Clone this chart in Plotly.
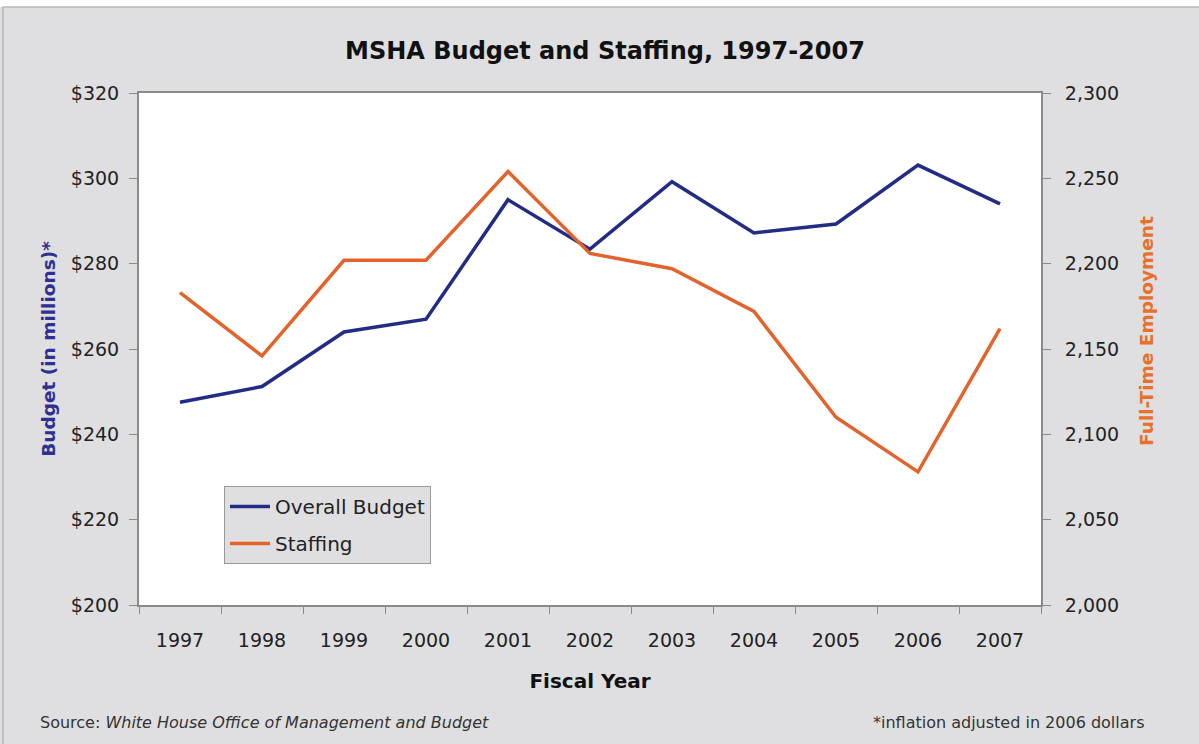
import plotly.graph_objects as go

years = ["1997", "1998", "1999", "2000", "2001", "2002", "2003", "2004", "2005", "2006", "2007"]
budget = [247.5, 251.2, 264.0, 267.0, 295.0, 283.4, 299.2, 287.2, 289.3, 303.1, 294.0]
staffing = [2183, 2146, 2202, 2202, 2254, 2206, 2197, 2172, 2110, 2078, 2162]
budget_ticks = [200, 220, 240, 260, 280, 300, 320]
staff_ticks = [2000, 2050, 2100, 2150, 2200, 2250, 2300]

W, H = 1199, 744
L, R, T, B = 139, 158, 93, 139
PW, PH = W - L - R, H - T - B

def px(x):
    return (x - L) / PW

def py(y):
    return (H - B - y) / PH

BLUE = "#232c84"
ORANGE = "#e2632b"
BG = "#dfdfe1"
AXC = "#8a8a8a"
FONT = "DejaVu Sans, Liberation Sans, Arial, sans-serif"

fig = go.Figure()
fig.add_trace(go.Scatter(x=years, y=budget, name="Overall Budget", mode="lines",
                         legendgroup="a",
                         line=dict(color=BLUE, width=3.5), yaxis="y"))
fig.add_trace(go.Scatter(x=years, y=staffing, name="Staffing", mode="lines",
                         legendgroup="b",
                         line=dict(color=ORANGE, width=3.5), yaxis="y2"))

fig.update_layout(
    width=W, height=H,
    margin=dict(l=L, r=R, t=T, b=B),
    paper_bgcolor=BG, plot_bgcolor="white",
    font=dict(family=FONT, color="#222222", size=19),
    title=dict(text="<b>MSHA Budget and Staffing, 1997-2007</b>", x=605 / W, xanchor="center",
               y=1 - 51 / H, yanchor="middle", font=dict(size=24, color="#111111")),
    showlegend=True,
    legend=dict(x=px(224), y=py(486), xanchor="left", yanchor="top",
                bgcolor=BG, bordercolor="#9a9a9a", borderwidth=1,
                font=dict(size=20, color="#222222"), itemwidth=40,
                traceorder="grouped", tracegroupgap=8),
    xaxis=dict(type="category", tickmode="array", tickvals=years, ticktext=years,
               showline=True, linecolor=AXC, linewidth=2, mirror=True,
               ticks="outside", tickson="boundaries", ticklen=7, tickcolor=AXC,
               showgrid=False, zeroline=False,
               tickfont=dict(size=19, color="#222222"), ticklabelstandoff=17,
               title=dict(text="<b>Fiscal Year</b>", font=dict(size=20, color="#111111"), standoff=24),
               range=[-0.5, 10.5]),
    yaxis=dict(range=[200, 320], tickvals=budget_ticks,
               ticktext=["$" + str(v) for v in budget_ticks],
               showline=True, linecolor=AXC, linewidth=2,
               ticks="outside", ticklen=8, tickcolor=AXC,
               showgrid=False, zeroline=False,
               tickfont=dict(size=19, color="#222222"), ticklabelstandoff=6,
               title=dict(text="<b>Budget (in millions)*</b>", font=dict(size=18.5, color="#2e3192"), standoff=10)),
    yaxis2=dict(range=[2000, 2300], tickvals=staff_ticks,
                ticktext=[f"{v:,}" for v in staff_ticks],
                overlaying="y", side="right",
                showline=True, linecolor=AXC, linewidth=2,
                ticks="outside", ticklen=8, tickcolor=AXC,
                showgrid=False, zeroline=False,
                tickfont=dict(size=19, color="#222222"), ticklabelstandoff=10),
)

# right axis title placed as rotated text
fig.add_annotation(xref="paper", yref="paper", x=px(1146), y=py(331),
                   xanchor="center", yanchor="middle", showarrow=False, textangle=-90,
                   text="<b>Full-Time Employment</b>",
                   font=dict(size=18.5, color="#e8702a"))

# white strip at the very top and panel border
fig.add_shape(type="rect", xref="paper", yref="paper",
              x0=px(-5), x1=px(W + 5), y0=py(7), y1=py(-5),
              fillcolor="white", line=dict(width=0), layer="below")
fig.add_shape(type="rect", xref="paper", yref="paper",
              x0=px(3), x1=px(W + 5), y0=py(H + 5), y1=py(7),
              fillcolor="rgba(0,0,0,0)", line=dict(color="#b8b8b8", width=1.5), layer="below")

fig.add_annotation(xref="paper", yref="paper", x=px(38), y=py(722),
                   xanchor="left", yanchor="middle", showarrow=False,
                   text="Source: <i>White House Office of Management and Budget</i>",
                   font=dict(size=16, color="#333333"))
fig.add_annotation(xref="paper", yref="paper", x=px(1146), y=py(722),
                   xanchor="right", yanchor="middle", showarrow=False,
                   text="*inflation adjusted in 2006 dollars",
                   font=dict(size=16, color="#333333"))

fig.write_html("out.html")
